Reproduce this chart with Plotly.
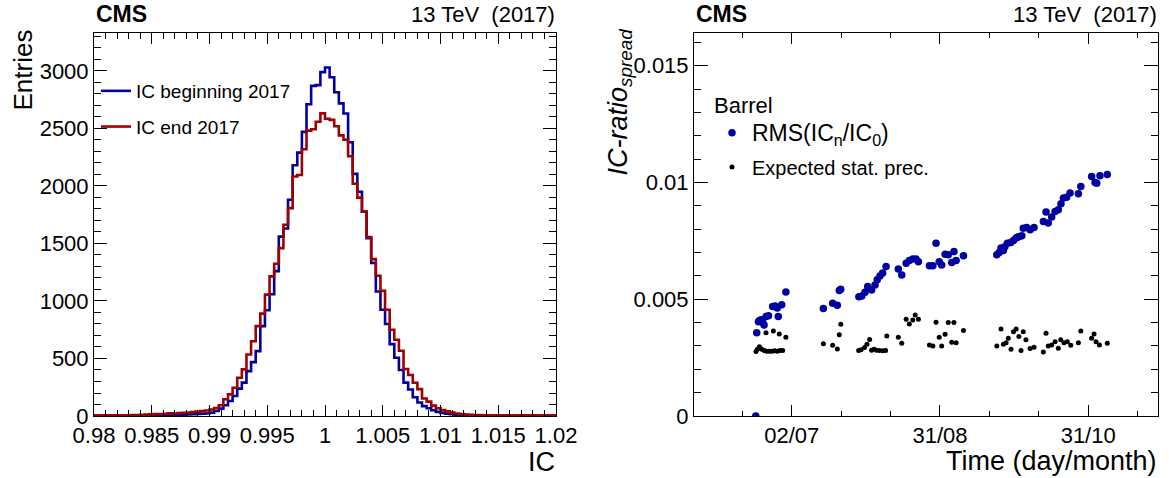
import pandas as pd
import plotly.graph_objects as go

# ---------------- left panel: IC distributions (100 bins, 0.98 - 1.02) ----------------
ic_min = 0.98
ic_max = 1.02
n_bins = 100
ic_begin_counts = [
    4, 3, 5, 4, 3, 5, 4, 6, 5, 5,
    5, 6, 5, 6, 7, 6, 8, 9, 10, 12,
    14, 16, 18, 20, 22, 29, 43, 64, 93, 130,
    174, 238, 290, 390, 468, 564, 781, 920, 1059, 1260,
    1560, 1630, 1880, 2180, 2290, 2470, 2710, 2870, 2877, 2990,
    3030, 2945, 2815, 2718, 2630, 2380, 2105, 1950, 1777, 1545,
    1330, 1083, 924, 800, 625, 507, 400, 290, 231, 163,
    118, 86, 68, 50, 36, 27, 20, 15, 12, 10,
    8, 7, 6, 5, 6, 5, 4, 5, 4, 3,
    4, 3, 5, 3, 4, 3, 2, 3, 4, 3,
]
ic_end_counts = [
    4, 5, 4, 6, 5, 6, 7, 6, 8, 9,
    10, 12, 14, 16, 18, 20, 24, 22, 26, 28,
    30, 34, 38, 42, 48, 56, 70, 93, 145, 188,
    246, 332, 405, 535, 650, 781, 890, 1055, 1214, 1324,
    1460, 1663, 1807, 2082, 2096, 2319, 2481, 2493, 2559, 2631,
    2585, 2575, 2519, 2440, 2403, 2258, 2019, 1899, 1777, 1556,
    1364, 1220, 1088, 924, 750, 663, 567, 408, 357, 289,
    234, 152, 125, 90, 67, 51, 40, 29, 22, 17,
    13, 10, 9, 8, 7, 6, 7, 5, 6, 5,
    4, 5, 4, 3, 4, 5, 3, 4, 3, 4,
]
ic_tick_vals = [0.98, 0.985, 0.99, 0.995, 1.0, 1.005, 1.01, 1.015, 1.02]
ic_tick_text = ["0.98", "0.985", "0.99", "0.995", "1", "1.005", "1.01", "1.015", "1.02"]
entries_tick_vals = [0, 500, 1000, 1500, 2000, 2500, 3000]

# ---------------- right panel: IC-ratio spread vs time ----------------
ref_date = "2017-07-02"   # day 0 of the offsets below
rms_days = [
    -14.7, -14.3, -13.6, -13.2, -12.5, -11.8, -11.3, -10.5, -9.5, -7.8, -6.8, -5.9, -5.5, -4.1, -2.4,
    12.9, 16.7, 18.6, 19.4, 20.0,
    27.4, 28.6, 29.9, 31.0, 32.6, 34.0, 34.9, 36.0, 37.1, 38.5, 43.5, 44.9, 46.7, 48.0, 49.4,
    50.7, 51.7, 56.2, 57.6, 58.9, 60.2, 61.2, 62.6, 63.9, 65.3, 66.2, 67.1, 70.1,
    83.7, 84.7, 85.4, 86.4, 87.0, 88.0, 89.4, 90.5, 91.6, 92.3, 92.9, 93.9, 94.5, 95.9, 97.3,
    98.9, 102.7, 103.8, 104.7, 106.1, 107.5, 108.8, 109.9, 110.9, 112.2, 113.6, 117.0, 118.0,
    122.4, 123.8, 124.5, 125.8, 128.8,
]
rms_values = [
    0.0, 0.00357, 0.00404, 0.00409, 0.00412, 0.00400, 0.00390, 0.00426, 0.00429, 0.00469, 0.00471,
    0.00462, 0.00426, 0.00476, 0.00531,
    0.00460, 0.00483, 0.00474, 0.00537, 0.00543,
    0.00511, 0.00514, 0.00530, 0.00555, 0.00540, 0.00561, 0.00583, 0.00600, 0.00612, 0.00640,
    0.00629, 0.00604, 0.00654, 0.00666, 0.00672,
    0.00672, 0.00661, 0.00643, 0.00643, 0.00740, 0.00661, 0.00647, 0.00693, 0.00690, 0.00657,
    0.00704, 0.00666, 0.00686,
    0.00690, 0.00700, 0.00719, 0.00709, 0.00725, 0.00740, 0.00743, 0.00751, 0.00762, 0.00766,
    0.00769, 0.00772, 0.00804, 0.00807, 0.00797,
    0.00807, 0.00833, 0.00873, 0.00826, 0.00852, 0.00876, 0.00883, 0.00909, 0.00933, 0.00937,
    0.00955, 0.00952, 0.00983,
    0.01026, 0.01000, 0.00997, 0.01029, 0.01034,
]
stat_days = [
    -14.6, -14.0, -13.2, -12.2, -11.3, -10.5, -10.2, -9.1, -8.0, -7.5, -6.9, -5.9, -5.1, -4.8, -3.7, -2.4,
    12.9, 16.7, 18.6, 19.4, 20.0,
    27.3, 28.3, 29.7, 30.7, 31.8, 32.6, 33.6, 34.6, 35.8, 37.1, 38.3, 38.8, 43.5, 44.9, 46.7,
    48.0, 49.4, 50.4, 51.7, 56.2, 57.6, 58.9, 60.2, 61.2, 62.6, 63.9, 65.3, 66.2, 67.1, 70.1,
    83.7, 85.4, 86.4, 87.5, 88.4, 89.5, 90.5, 91.6, 92.7, 93.6, 94.5, 95.6, 97.3, 98.9,
    102.7, 103.8, 104.7, 106.1, 107.5, 108.8, 109.8, 111.1, 112.5, 113.9, 117.0, 118.0,
    122.4, 123.4, 124.2, 125.6, 128.8,
]
stat_values = [
    0.00276, 0.00286, 0.00296, 0.00286, 0.00280, 0.00357, 0.00277, 0.00277, 0.00277, 0.00364,
    0.00279, 0.00277, 0.00351, 0.00280, 0.00281, 0.00337,
    0.00309, 0.00303, 0.00287, 0.00348, 0.00393,
    0.00280, 0.00284, 0.00293, 0.00307, 0.00328, 0.00282, 0.00286, 0.00282, 0.00280, 0.00279,
    0.00280, 0.00343, 0.00337, 0.00311, 0.00414,
    0.00394, 0.00411, 0.00433, 0.00414, 0.00304, 0.00300, 0.00401, 0.00337, 0.00300, 0.00350,
    0.00400, 0.00316, 0.00400, 0.00314, 0.00366,
    0.00300, 0.00372, 0.00307, 0.00314, 0.00333, 0.00286, 0.00361, 0.00372, 0.00340, 0.00280,
    0.00361, 0.00326, 0.00289, 0.00294,
    0.00274, 0.00354, 0.00300, 0.00304, 0.00318, 0.00290, 0.00326, 0.00314, 0.00318, 0.00303,
    0.00314, 0.00364,
    0.00333, 0.00351, 0.00318, 0.00304, 0.00311,
]
time_range_days = [-39.9, 149.5]
time_major_days = [0.0, 60.5, 121.0]
time_major_text = ["02/07", "31/08", "31/10"]
time_minor_days = [-20.17, 20.17, 40.33, 80.67, 100.83, 141.17]
spread_tick_vals = [0.0, 0.005, 0.01, 0.015]
spread_tick_text = ["0", "0.005", "0.01", "0.015"]

# ---------------- build ----------------
BLUE = "#0000a0"
RED = "#a00000"
FONT = "Liberation Sans, Arial, Helvetica, sans-serif"

W, H = 1169, 478


def px(x):  # window pixel -> paper fraction
    return x / W


def py(y):
    return 1 - y / H


bin_w = (ic_max - ic_min) / n_bins
edges = [ic_min + i * bin_w for i in range(n_bins + 1)]


def step_xy(counts):
    xs = [edges[0]] + edges[:-1] + [edges[-1], edges[-1]]
    ys = [0] + list(counts) + [counts[-1], 0]
    return xs, ys


ref = pd.Timestamp(ref_date)


def to_dates(days):
    return [ref + pd.to_timedelta(d, unit="D") for d in days]


fig = go.Figure()

bx, by = step_xy(ic_begin_counts)
ex, ey = step_xy(ic_end_counts)
fig.add_trace(go.Scatter(x=bx, y=by, mode="lines", line=dict(color=BLUE, width=2.6, shape="hv"),
                         name="IC beginning 2017", legend="legend", legendgroup="a",
                         xaxis="x", yaxis="y"))
fig.add_trace(go.Scatter(x=ex, y=ey, mode="lines", line=dict(color=RED, width=2.6, shape="hv"),
                         name="IC end 2017", legend="legend", legendgroup="b",
                         xaxis="x", yaxis="y"))

fig.add_trace(go.Scatter(x=to_dates(stat_days), y=stat_values, mode="markers",
                         marker=dict(color="black", size=5),
                         name="<span style='font-size:20px'>Expected stat. prec.</span>",
                         legend="legend2", legendrank=2, legendgroup="d",
                         xaxis="x2", yaxis="y2"))
fig.add_trace(go.Scatter(x=to_dates(rms_days), y=rms_values, mode="markers",
                         marker=dict(color=BLUE, size=7.5),
                         name="<span style='font-size:23px'>RMS(IC<sub>n</sub>/IC<sub>0</sub>)</span>",
                         legend="legend2", legendrank=1, legendgroup="c",
                         xaxis="x2", yaxis="y2"))

lx0, lx1 = px(94), px(556)
rx0, rx1 = px(694), px(1158)
y0, y1 = py(416), py(33)

axis_common = dict(showline=True, linecolor="black", linewidth=1, mirror="ticks",
                   ticks="inside", tickcolor="black", tickwidth=1, showgrid=False,
                   zeroline=False, automargin=False,
                   tickfont=dict(family=FONT, size=22, color="black"))

fig.update_layout(
    width=W, height=H,
    margin=dict(l=0, r=0, t=0, b=0),
    paper_bgcolor="white", plot_bgcolor="white",
    font=dict(family=FONT, color="black"),
    xaxis=dict(domain=[lx0, lx1], range=[ic_min, ic_max], tickmode="array",
               tickvals=ic_tick_vals, ticktext=ic_tick_text, ticklen=11,
               minor=dict(dtick=0.001, tick0=ic_min, ticks="inside", ticklen=6, tickcolor="black"),
               anchor="y", **axis_common),
    yaxis=dict(domain=[y0, y1], range=[0, 3330], tickmode="array",
               tickvals=entries_tick_vals, ticklen=13,
               minor=dict(dtick=100, tick0=0, ticks="inside", ticklen=7, tickcolor="black"),
               anchor="x", **axis_common),
    xaxis2=dict(domain=[rx0, rx1], type="date",
                range=to_dates(time_range_days), tickmode="array",
                tickvals=to_dates(time_major_days), ticktext=time_major_text, ticklen=11,
                minor=dict(tickmode="array", tickvals=to_dates(time_minor_days),
                           ticks="inside", ticklen=5, tickcolor="black"),
                anchor="y2", **axis_common),
    yaxis2=dict(domain=[y0, y1], range=[0, 0.0164], tickmode="array",
                tickvals=spread_tick_vals, ticktext=spread_tick_text, ticklen=14,
                minor=dict(dtick=0.001, tick0=0, ticks="inside", ticklen=7, tickcolor="black"),
                anchor="x2", **axis_common),
    legend=dict(x=px(96), y=py(72), xanchor="left", yanchor="top",
                bgcolor="rgba(0,0,0,0)", font=dict(family=FONT, size=19, color="black"),
                itemwidth=30, traceorder="grouped", tracegroupgap=8),
    legend2=dict(x=px(712), y=py(84), xanchor="left", yanchor="top",
                 bgcolor="rgba(0,0,0,0)", font=dict(family=FONT, size=21, color="black"),
                 title=dict(text="Barrel", font=dict(family=FONT, size=22, color="black")),
                 itemwidth=30, traceorder="grouped", tracegroupgap=4),
    showlegend=True,
)

annos = [
    dict(text="<b>CMS</b>", x=px(94), y=py(14), xanchor="left", size=23),
    dict(text="13 TeV&nbsp; (2017)", x=px(557), y=py(14), xanchor="right", size=22),
    dict(text="<b>CMS</b>", x=px(694), y=py(14), xanchor="left", size=23),
    dict(text="13 TeV&nbsp; (2017)", x=px(1159), y=py(14), xanchor="right", size=22),
    dict(text="IC", x=px(557), y=py(462), xanchor="right", size=27),
    dict(text="Time (day/month)", x=px(1159), y=py(461), xanchor="right", size=27),
]
for a in annos:
    fig.add_annotation(text=a["text"], x=a["x"], y=a["y"], xref="paper", yref="paper",
                       xanchor=a["xanchor"], yanchor="middle", showarrow=False,
                       font=dict(family=FONT, size=a["size"], color="black"))

fig.add_annotation(text="Entries", x=px(22), y=py(28), xref="paper", yref="paper",
                   xanchor="center", yanchor="top", textangle=-90, showarrow=False,
                   font=dict(family=FONT, size=26, color="black"))
fig.add_annotation(text="<i>IC-ratio</i><sub><i>spread</i></sub>", x=px(620), y=py(26),
                   xref="paper", yref="paper", xanchor="center", yanchor="top", textangle=-90,
                   showarrow=False, font=dict(family=FONT, size=27, color="black"))

# the figure is exactly the window size, so drop the page's default body margin
fig.write_html("out.html", config={"displayModeBar": False, "staticPlot": True},
               post_script="document.body.style.margin='0px';")
